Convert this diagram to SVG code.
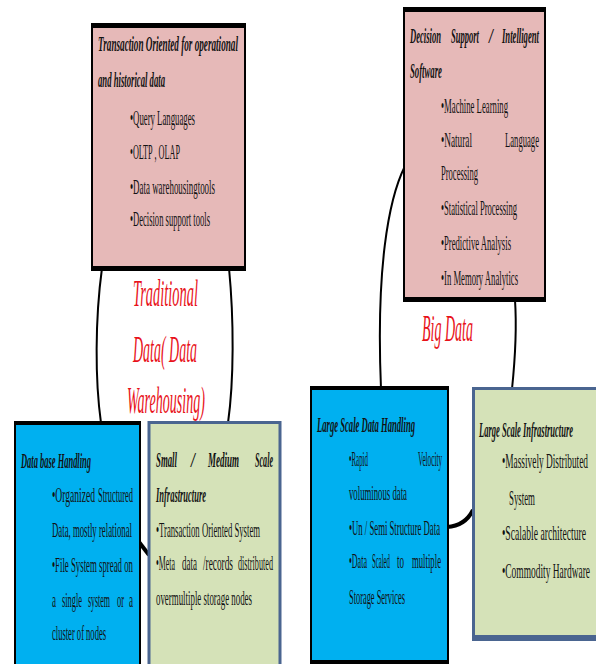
<svg xmlns="http://www.w3.org/2000/svg" width="596" height="664" viewBox="0 0 596 664">
  <style>
    text { font-family: "Liberation Serif", "Times New Roman", serif; fill: #121212; }
    .b { font-size: 22px; }
    .t { font-size: 21px; font-weight: bold; font-style: italic; }
    .red { font-size: 37px; font-style: italic; fill: #e8121a; }
    .pink { fill: #e6b9b8; stroke: #000; stroke-width: 2; }
    .blue { fill: #00b0f0; stroke: #000; stroke-width: 2; }
    .green { fill: #d5e2b8; stroke: #4a6590; stroke-width: 3; }
    .band { fill: #000; }
    .gband { fill: #4a6590; }
    .wire { fill: none; stroke: #000; stroke-width: 2; }
    .wire-thick { fill: none; stroke: #000; stroke-width: 4; }
  </style>

  <!-- connectors drawn first so the boxes cover their ends -->
  <g id="connectors">
    <path class="wire" d="M102,268 C95,320 95,380 101,423"/>
    <path class="wire" d="M229,268 C234,320 234,380 228,423"/>
    <path class="wire-thick" d="M139,542 L149,555"/>
    <path class="wire" d="M405,166 C388,200 376,270 381,389"/>
    <path class="wire" d="M515,300 C517,330 515,360 512,389"/>
    <path class="wire-thick" d="M447,527 Q465,526 473,510"/>
  </g>

  <!-- Traditional: transaction oriented -->
  <g id="node-transaction">
    <rect class="pink" x="92" y="24" width="153" height="246"/>
    <rect class="band" x="91" y="23" width="155" height="5"/>
    <rect class="band" x="91" y="266" width="155" height="5"/>
    <!-- text is set in a half-width condensed frame: x and lengths are doubled -->
    <g transform="scale(0.5,1)">
      <text class="t" x="196" y="51" textLength="280" lengthAdjust="spacingAndGlyphs">Transaction Oriented for operational</text>
      <text class="t" x="196" y="87" textLength="134" lengthAdjust="spacingAndGlyphs">and historical data</text>
      <text class="b" x="260" y="125" textLength="130" lengthAdjust="spacingAndGlyphs">•Query Languages</text>
      <text class="b" x="260" y="159" textLength="100" lengthAdjust="spacingAndGlyphs">•OLTP , OLAP</text>
      <text class="b" x="260" y="194" textLength="170" lengthAdjust="spacingAndGlyphs">•Data warehousingtools</text>
      <text class="b" x="260" y="226" textLength="160" lengthAdjust="spacingAndGlyphs">•Decision support tools</text>
    </g>
  </g>

  <!-- Big data: decision support -->
  <g id="node-decision">
    <rect class="pink" x="404" y="8" width="141" height="293"/>
    <rect class="band" x="403" y="7" width="143" height="5"/>
    <rect class="band" x="403" y="297" width="143" height="5"/>
    <g transform="scale(0.5,1)">
      <text class="t" x="820" y="43" textLength="62" lengthAdjust="spacingAndGlyphs">Decision</text>
      <text class="t" x="902" y="43" textLength="56" lengthAdjust="spacingAndGlyphs">Support</text>
      <text class="t" x="978" y="43" textLength="8" lengthAdjust="spacingAndGlyphs">/</text>
      <text class="t" x="1004" y="43" textLength="74" lengthAdjust="spacingAndGlyphs">Intelligent</text>
      <text class="t" x="820" y="78" textLength="64" lengthAdjust="spacingAndGlyphs">Software</text>
      <text class="b" x="882" y="113" textLength="134" lengthAdjust="spacingAndGlyphs">•Machine Learning</text>
      <text class="b" x="882" y="147" textLength="62" lengthAdjust="spacingAndGlyphs">•Natural</text>
      <text class="b" x="1010" y="147" textLength="68" lengthAdjust="spacingAndGlyphs">Language</text>
      <text class="b" x="882" y="180" textLength="74" lengthAdjust="spacingAndGlyphs">Processing</text>
      <text class="b" x="882" y="215" textLength="152" lengthAdjust="spacingAndGlyphs">•Statistical Processing</text>
      <text class="b" x="882" y="250" textLength="140" lengthAdjust="spacingAndGlyphs">•Predictive Analysis</text>
      <text class="b" x="882" y="285" textLength="154" lengthAdjust="spacingAndGlyphs">•In Memory Analytics</text>
    </g>
  </g>

  <!-- Traditional: database handling -->
  <g id="node-database">
    <rect class="blue" x="15" y="422" width="125" height="250"/>
    <rect class="band" x="14" y="421" width="127" height="4"/>
    <g transform="scale(0.5,1)">
      <text class="t" x="42" y="468" textLength="140" lengthAdjust="spacingAndGlyphs">Data base Handling</text>
      <text class="b" x="104" y="502" textLength="86" lengthAdjust="spacingAndGlyphs">•Organized</text>
      <text class="b" x="196" y="502" textLength="70" lengthAdjust="spacingAndGlyphs">Structured</text>
      <text class="b" x="104" y="537" textLength="160" lengthAdjust="spacingAndGlyphs">Data, mostly relational</text>
      <text class="b" x="104" y="572" textLength="162" lengthAdjust="spacingAndGlyphs">•File System spread on</text>
      <text class="b" x="104" y="607" textLength="8" lengthAdjust="spacingAndGlyphs">a</text>
      <text class="b" x="124" y="607" textLength="40" lengthAdjust="spacingAndGlyphs">single</text>
      <text class="b" x="176" y="607" textLength="44" lengthAdjust="spacingAndGlyphs">system</text>
      <text class="b" x="234" y="607" textLength="14" lengthAdjust="spacingAndGlyphs">or</text>
      <text class="b" x="258" y="607" textLength="8" lengthAdjust="spacingAndGlyphs">a</text>
      <text class="b" x="104" y="640" textLength="108" lengthAdjust="spacingAndGlyphs">cluster of nodes</text>
    </g>
  </g>

  <!-- Traditional: small / medium infrastructure -->
  <g id="node-small-infra">
    <rect class="green" x="149" y="422.5" width="131" height="250"/>
    <g transform="scale(0.5,1)">
      <text class="t" x="312" y="467" textLength="42" lengthAdjust="spacingAndGlyphs">Small</text>
      <text class="t" x="382" y="467" textLength="8" lengthAdjust="spacingAndGlyphs">/</text>
      <text class="t" x="416" y="467" textLength="62" lengthAdjust="spacingAndGlyphs">Medium</text>
      <text class="t" x="510" y="467" textLength="36" lengthAdjust="spacingAndGlyphs">Scale</text>
      <text class="t" x="312" y="502" textLength="100" lengthAdjust="spacingAndGlyphs">Infrastructure</text>
      <text class="b" x="312" y="537" textLength="208" lengthAdjust="spacingAndGlyphs">•Transaction Oriented System</text>
      <text class="b" x="312" y="570" textLength="38" lengthAdjust="spacingAndGlyphs">•Meta</text>
      <text class="b" x="364" y="570" textLength="30" lengthAdjust="spacingAndGlyphs">data</text>
      <text class="b" x="406" y="570" textLength="60" lengthAdjust="spacingAndGlyphs">/records</text>
      <text class="b" x="476" y="570" textLength="70" lengthAdjust="spacingAndGlyphs">distributed</text>
      <text class="b" x="312" y="605" textLength="192" lengthAdjust="spacingAndGlyphs">overmultiple storage nodes</text>
    </g>
  </g>

  <!-- Big data: large scale data handling -->
  <g id="node-large-data">
    <rect class="blue" x="311" y="387" width="137" height="285"/>
    <rect class="band" x="310" y="386" width="139" height="4"/>
    <rect class="band" x="310" y="660" width="139" height="4"/>
    <g transform="scale(0.5,1)">
      <text class="t" x="634" y="432" textLength="196" lengthAdjust="spacingAndGlyphs">Large Scale Data Handling</text>
      <text class="b" x="698" y="466" textLength="38" lengthAdjust="spacingAndGlyphs">•Rapid</text>
      <text class="b" x="836" y="466" textLength="48" lengthAdjust="spacingAndGlyphs">Velocity</text>
      <text class="b" x="698" y="500" textLength="116" lengthAdjust="spacingAndGlyphs">voluminous data</text>
      <text class="b" x="698" y="535" textLength="182" lengthAdjust="spacingAndGlyphs">•Un / Semi Structure Data</text>
      <text class="b" x="698" y="604" textLength="112" lengthAdjust="spacingAndGlyphs">Storage Services</text>
    </g>
    <!-- tighter frame (x and lengths times 2.5) for the justified line -->
    <g transform="scale(0.4,1)">
      <text class="b" x="872.5" y="568" textLength="45" lengthAdjust="spacingAndGlyphs">•Data</text>
      <text class="b" x="930" y="568" textLength="45" lengthAdjust="spacingAndGlyphs">Scaled</text>
      <text class="b" x="992.5" y="568" textLength="17.5" lengthAdjust="spacingAndGlyphs">to</text>
      <text class="b" x="1030" y="568" textLength="72.5" lengthAdjust="spacingAndGlyphs">multiple</text>
    </g>
  </g>

  <!-- Big data: large scale infrastructure -->
  <g id="node-large-infra">
    <rect class="green" x="473.5" y="388.5" width="130" height="249"/>
    <rect class="gband" x="472" y="635" width="130" height="6"/>
    <!-- tighter frame (x and lengths times 2.5) near the right edge -->
    <g transform="scale(0.4,1)">
      <text class="t" x="1197.5" y="437" textLength="235" lengthAdjust="spacingAndGlyphs">Large Scale Infrastructure</text>
      <text class="b" x="1255" y="468" textLength="215" lengthAdjust="spacingAndGlyphs">•Massively Distributed</text>
      <text class="b" x="1272.5" y="505" textLength="65" lengthAdjust="spacingAndGlyphs">System</text>
      <text class="b" x="1255" y="540" textLength="210" lengthAdjust="spacingAndGlyphs">•Scalable architecture</text>
      <text class="b" x="1255" y="578" textLength="220" lengthAdjust="spacingAndGlyphs">•Commodity Hardware</text>
    </g>
  </g>

  <!-- group labels -->
  <g id="label-traditional" transform="scale(0.5,1)">
    <text class="red" x="266" y="306" textLength="130" lengthAdjust="spacingAndGlyphs">Traditional</text>
    <text class="red" x="266" y="362" textLength="128" lengthAdjust="spacingAndGlyphs">Data( Data</text>
    <text class="red" x="254" y="413" textLength="156" lengthAdjust="spacingAndGlyphs">Warehousing)</text>
  </g>
  <g id="label-bigdata" transform="scale(0.5,1)">
    <text class="red" x="844" y="341" textLength="102" lengthAdjust="spacingAndGlyphs">Big Data</text>
  </g>
</svg>
